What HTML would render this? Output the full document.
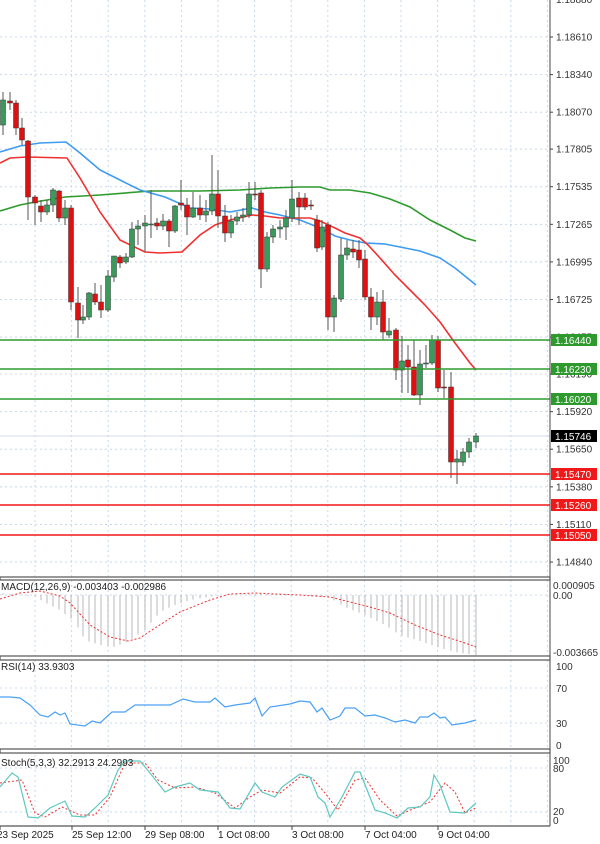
<!DOCTYPE html>
<html><head><meta charset="utf-8"><style>
html,body{margin:0;padding:0;background:#fff;width:600px;height:844px;overflow:hidden}
svg{display:block;font-family:"Liberation Sans",sans-serif}
</style></head><body>
<svg id="s" width="600" height="844" xmlns="http://www.w3.org/2000/svg"></svg>
<script>
const S=document.getElementById('s');let h='';
function add(t){h+=t;}
function py(p){return 37+(1.18610-p)*13927;}
// grid verticals
for(let x=35;x<550;x+=36.6){
 add(`<line x1="${x}" y1="0" x2="${x}" y2="826" stroke="#c8d8ec" stroke-dasharray="2,3" stroke-width="1"/>`);
}
// price labels
const pl=["1.18880","1.18610","1.18340","1.18070","1.17805","1.17535","1.17265","1.16995","1.16725","1.16455","1.16190","1.15920","1.15650","1.15380","1.15110","1.14840"];
pl.forEach(p=>{const y=py(+p);add(`<line x1="0" y1="${y}" x2="550" y2="${y}" stroke="#c8d8ec" stroke-dasharray="2,3"/>`);
 add(`<line x1="550" y1="${y}" x2="553" y2="${y}" stroke="#444"/>`);
 add(`<text x="556" y="${y+3.5}" font-size="10" fill="#333">${p}</text>`);});
// current price line
add(`<line x1="0" y1="436" x2="550" y2="436" stroke="#d0dcec"/>`);
// MAs
function pline(pts,col,w,dash){add(`<polyline points="${pts.map(p=>p.join(',')).join(' ')}" fill="none" stroke="${col}" stroke-width="${w}" ${dash?'stroke-dasharray="'+dash+'"':''}/>`);}
pline([[0,211],[20,205],[35,202],[65,197],[100,195],[150,191],[200,191],[240,190],[270,188],[300,187],[320,187],[330,190],[350,190],[370,193],[390,199],[410,207],[430,220],[450,230],[465,238],[476,241]],"#2e9a2e",1.6);
pline([[0,152],[20,146],[40,143],[66,142],[80,153],[100,170],[120,180],[140,190],[165,197],[190,208],[210,209],[230,212],[252,208],[265,212],[280,215],[300,220],[320,228],[335,236],[350,240],[365,243],[385,244],[400,247],[420,251],[440,258],[455,268],[476,285]],"#3d9bf0",1.6);
pline([[0,163],[10,158],[27,157],[67,158],[80,178],[100,212],[120,240],[145,252],[160,253],[182,252],[200,235],[215,225],[230,220],[252,215],[265,216],[280,218],[300,218],[310,218],[320,221],[335,228],[345,233],[360,238],[368,245],[380,258],[395,275],[410,290],[425,305],[440,322],[455,343],[470,363],[476,370]],"#f03030",1.6);
// candles [x, top, bottom, green?, wickTop, wickBot]
const C=[[3,100,125,1,92,135],[10,101,103,0,92,110],[16,103,128,0,100,135],[22,128,140,0,118,145],[28,141,197,0,140,220],[35,197,203,0,195,225],[41,206,212,0,200,222],[47,205,212,1,200,215],[53,190,205,1,188,212],[59,191,218,0,190,222],[65,208,218,1,200,225],[71,208,302,0,205,310],[78,303,320,0,287,338],[83,317,320,1,305,324],[89,293,317,1,292,320],[95,294,302,0,283,305],[101,302,310,0,285,318],[108,276,310,1,270,312],[114,256,277,1,257,282],[120,257,263,0,255,268],[126,257,262,1,253,264],[132,229,257,1,222,258],[138,226,229,1,220,245],[145,223,226,1,215,252],[151,224,225,1,190,238],[157,223,226,0,218,230],[163,221,226,1,214,230],[169,221,231,0,219,247],[175,206,231,1,205,233],[181,203,205,0,180,210],[187,205,217,0,198,235],[193,208,217,1,192,218],[200,208,215,0,195,220],[206,211,215,1,200,222],[212,194,211,1,155,215],[218,194,216,0,170,228],[225,216,233,0,205,242],[231,221,233,1,215,238],[237,217,221,1,212,225],[243,215,217,1,208,222],[249,194,215,1,182,218],[255,194,195,0,182,200],[261,193,269,0,190,288],[267,237,269,1,232,272],[273,229,237,1,225,243],[280,227,229,1,220,238],[286,218,227,1,210,240],[292,199,218,1,180,222],[299,198,207,0,192,225],[305,198,207,0,193,210],[311,205,206,0,200,210],[317,220,248,0,215,252],[322,227,247,1,220,250],[328,225,317,0,222,330],[334,298,317,1,295,332],[341,255,299,1,238,302],[347,248,255,1,240,260],[353,249,252,0,240,258],[359,250,260,0,240,268],[365,259,297,0,250,300],[371,297,317,0,288,330],[377,302,317,1,292,325],[383,302,332,0,290,340],[389,331,335,1,318,338],[396,330,370,0,328,380],[402,361,370,1,336,393],[408,360,367,0,345,393],[414,367,395,0,340,396],[420,364,395,1,350,405],[426,363,364,1,345,368],[432,340,363,1,335,365],[438,340,388,0,336,392],[444,387,388,0,370,398],[451,387,462,0,372,478],[457,459,462,1,450,484],[463,452,462,1,448,466],[469,442,452,1,438,458],[476,436,442,1,433,448]];
C.forEach(c=>{const [x,t,b,g,wt,wb]=c;
 add(`<line x1="${x}" y1="${wt}" x2="${x}" y2="${wb}" stroke="#555" stroke-width="1"/>`);
 add(`<rect x="${x-2.5}" y="${t}" width="5" height="${Math.max(1,b-t)}" fill="${g?'#3a9a5a':'#e01010'}" stroke="#333" stroke-width="0.5"/>`);});
// levels
[[340,"1.16440","#2e9a2e"],[369,"1.16230","#2e9a2e"],[399,"1.16020","#2e9a2e"],[474,"1.15470","#f01818"],[505,"1.15260","#f01818"],[535,"1.15050","#f01818"]].forEach(l=>{
 add(`<line x1="0" y1="${l[0]}" x2="550" y2="${l[0]}" stroke="${l[2]}" stroke-width="1.6"/>`);
 add(`<rect x="551" y="${l[0]-6}" width="46" height="12" fill="${l[2]}"/>`);
 add(`<text x="555" y="${l[0]+4}" font-size="10" fill="#fff">${l[1]}</text>`);});
add(`<rect x="551" y="430" width="46" height="12" fill="#000"/><text x="555" y="440" font-size="10" fill="#fff">1.15746</text>`);
// axis
add(`<line x1="550" y1="0" x2="550" y2="826" stroke="#444"/>`);
// panel separators
[[577,580],[656,660],[749,753]].forEach(p=>{add(`<rect x="0" y="${p[0]}" width="550" height="${p[1]-p[0]}" fill="#fff" stroke="#555" stroke-width="1.2"/>`);});
add(`<line x1="0" y1="826" x2="550" y2="826" stroke="#555" stroke-width="1.2"/>`);
// MACD
add(`<line x1="0" y1="595" x2="550" y2="595" stroke="#c8d8ec" stroke-dasharray="2,3"/>`);
const hb=[[0,593],[35,597],[50,605],[60,610],[75,622],[85,640],[100,645],[115,647],[130,640],[145,630],[160,612],[175,605],[190,600],[215,596],[250,594],[290,594],[330,598],[345,607],[365,615],[385,625],[400,635],[420,641],[440,648],[460,653],[476,655]];
function interp(a,x){for(let i=0;i<a.length-1;i++){if(x>=a[i][0]&&x<=a[i+1][0]){const t=(x-a[i][0])/(a[i+1][0]-a[i][0]);return a[i][1]+t*(a[i+1][1]-a[i][1]);}}return a[a.length-1][1];}
C.forEach(c=>{const y=interp(hb,c[0]);add(`<line x1="${c[0]}" y1="595" x2="${c[0]}" y2="${y}" stroke="#b8b8b8" stroke-width="1"/>`);});
pline([[0,599],[20,593],[40,591],[60,596],[70,603],[90,625],[110,637],[128,641],[140,638],[155,628],[180,612],[210,600],[230,594],[255,593],[275,594],[300,595],[330,597],[350,602],[370,607],[390,613],[415,625],[440,635],[465,643],[476,647]],"#f03030",1,"2,2");
add(`<text x="1" y="590" font-size="10" fill="#222">MACD(12,26,9) -0.003403 -0.002986</text>`);
add(`<text x="553" y="589" font-size="10" fill="#333">0.000905</text><text x="553" y="599" font-size="10" fill="#333">0.00</text><text x="553" y="656" font-size="10" fill="#333">-0.003665</text>`);
// RSI
[[688,"70"],[723,"30"]].forEach(r=>add(`<line x1="0" y1="${r[0]}" x2="550" y2="${r[0]}" stroke="#c8d8ec" stroke-dasharray="2,3"/>`));
add(`<text x="556" y="670" font-size="10" fill="#333">100</text><text x="556" y="692" font-size="10" fill="#333">70</text><text x="556" y="727" font-size="10" fill="#333">30</text><text x="556" y="749" font-size="10" fill="#333">0</text>`);
pline([[0,697],[10,697],[20,698],[30,705],[40,715],[48,717],[55,712],[60,715],[65,713],[70,724],[85,726],[92,721],[100,723],[112,712],[125,712],[135,705],[170,705],[183,699],[195,702],[210,702],[215,698],[225,707],[235,705],[250,703],[255,698],[262,716],[270,707],[290,704],[300,701],[310,702],[317,712],[322,708],[330,720],[340,716],[345,708],[355,708],[365,716],[375,715],[385,718],[395,722],[405,720],[415,723],[420,717],[428,717],[434,713],[440,718],[445,717],[452,725],[465,723],[476,720]],"#4aa0f5",1.2);
add(`<text x="1" y="670" font-size="10" fill="#222">RSI(14) 33.9303</text>`);
// Stoch
[[768],[812]].forEach(r=>add(`<line x1="0" y1="${r[0]}" x2="550" y2="${r[0]}" stroke="#c8d8ec" stroke-dasharray="2,3"/>`));
add(`<text x="553" y="764" font-size="10" fill="#333">100</text><text x="553" y="772" font-size="10" fill="#333">80</text><text x="553" y="815" font-size="10" fill="#333">20</text><text x="553" y="824" font-size="10" fill="#333">0</text>`);
pline([[0,783],[22,780],[35,813],[45,817],[62,807],[80,815],[95,815],[110,797],[125,763],[145,763],[158,780],[175,788],[195,787],[215,793],[235,808],[250,797],[262,790],[280,793],[300,777],[312,778],[325,793],[338,810],[355,780],[365,778],[380,800],[397,816],[415,808],[430,802],[445,783],[455,792],[465,813],[476,808]],"#f03030",1,"2,2");
pline([[0,787],[12,773],[18,777],[28,817],[38,818],[50,808],[65,801],[72,816],[85,817],[95,808],[108,795],[118,770],[125,761],[140,761],[150,773],[165,792],[175,787],[190,783],[200,790],[218,792],[230,808],[240,809],[255,783],[262,792],[275,797],[282,787],[300,774],[310,777],[318,797],[325,803],[330,817],[342,797],[355,772],[360,772],[375,810],[385,813],[397,818],[408,808],[420,807],[430,797],[434,775],[440,785],[450,812],[465,813],[476,803]],"#5cc8c0",1.2);
add(`<text x="1" y="766" font-size="10" fill="#222">Stoch(5,3,3) 32.2913 24.2993</text>`);
// dates
[[0,"23 Sep 2025",-1],[72,"25 Sep 12:00"],[145,"29 Sep 08:00"],[218,"1 Oct 08:00"],[292,"3 Oct 08:00"],[365,"7 Oct 04:00"],[438,"9 Oct 04:00"]].forEach(d=>{
 add(`<line x1="${d[0]}" y1="826" x2="${d[0]}" y2="830" stroke="#444"/>`);
 add(`<text x="${d[2]?-3:d[0]}" y="838" font-size="10" fill="#222">${d[1]}</text>`);});
S.innerHTML=h;
</script>
</body></html>
